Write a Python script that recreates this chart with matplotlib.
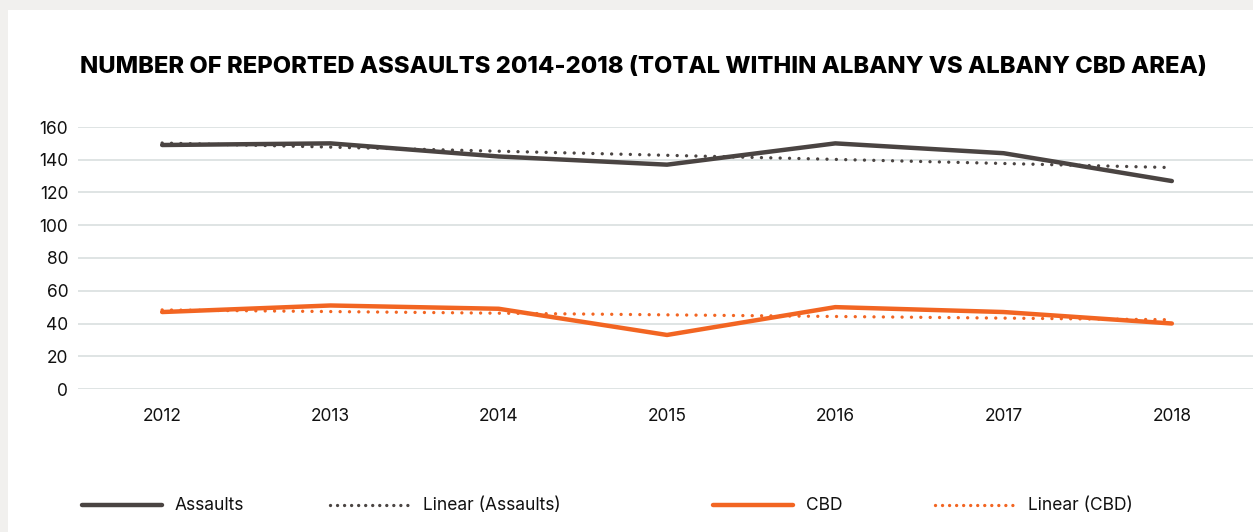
import numpy as np
import matplotlib.pyplot as plt
from matplotlib.patches import Rectangle
from matplotlib.lines import Line2D

plt.rcParams["font.family"] = ["Inter", "DejaVu Sans"]

years = ["2012", "2013", "2014", "2015", "2016", "2017", "2018"]
assaults = [149, 150, 142, 137, 150, 144, 127]
cbd = [47, 51, 49, 33, 50, 47, 40]

dark = "#4a4442"
orange = "#f26522"

x = np.arange(len(years))
# Excel style linear trendlines
trend_a = np.polyval(np.polyfit(x, assaults, 1), x)
trend_c = np.polyval(np.polyfit(x, cbd, 1), x)

W, H = 1253, 532
fig = plt.figure(figsize=(W / 100, H / 100), dpi=100, facecolor="#f1f0ee")
fig.patches.append(Rectangle((8 / W, 0), 1, 1 - 10 / H, transform=fig.transFigure,
                             facecolor="white", edgecolor="none", zorder=-10))

ax = fig.add_axes([78 / W, 1 - 389 / H, (1256 - 78) / W, (389 - 127) / H])
ax.set_facecolor("none")

dots = (0, (0.01, 2.8))
ax.plot(x, trend_a, color=dark, lw=2.4, linestyle=dots, dash_capstyle="round", zorder=3)
ax.plot(x, trend_c, color=orange, lw=2.4, linestyle=dots, dash_capstyle="round", zorder=3)
ax.plot(x, assaults, color=dark, lw=3.2, solid_capstyle="round", solid_joinstyle="round", zorder=4)
ax.plot(x, cbd, color=orange, lw=3.2, solid_capstyle="round", solid_joinstyle="round", zorder=4)

ax.set_xlim(-0.5, 6.5)
ax.set_ylim(0, 160)
ax.set_yticks(range(0, 161, 20))
ax.set_xticks(x)
ax.set_xticklabels(years)
ax.grid(axis="y", color="#d9dfdf", lw=1.2)
ax.set_axisbelow(True)
for s in ax.spines.values():
    s.set_visible(False)
ax.tick_params(length=0, labelsize=12.5, colors="#111111")
ax.tick_params(axis="y", pad=7)
ax.tick_params(axis="x", pad=14)

fig.text(643 / W, 1 - 67 / H,
         "NUMBER OF REPORTED ASSAULTS 2014-2018 (TOTAL WITHIN ALBANY VS ALBANY CBD AREA)",
         ha="center", va="center", fontsize=17.1, fontweight="heavy", color="#000000")

# legend entries spread along the bottom
leg_dots = (0, (0.01, 2.1))
entries = [
    (82, dict(color=dark, lw=3.2, solid_capstyle="round"), "Assaults"),
    (330, dict(color=dark, lw=2.4, linestyle=leg_dots, dash_capstyle="round"), "Linear (Assaults)"),
    (713, dict(color=orange, lw=3.2, solid_capstyle="round"), "CBD"),
    (935, dict(color=orange, lw=2.4, linestyle=leg_dots, dash_capstyle="round"), "Linear (CBD)"),
]
ly = 1 - 505 / H
for x0, style, label in entries:
    fig.lines.append(Line2D([x0 / W, (x0 + 80) / W], [ly, ly], transform=fig.transFigure, **style))
    fig.text((x0 + 93) / W, ly, label, ha="left", va="center", fontsize=12.5, color="#111111")

fig.savefig("out.png", dpi=100, facecolor=fig.get_facecolor())
